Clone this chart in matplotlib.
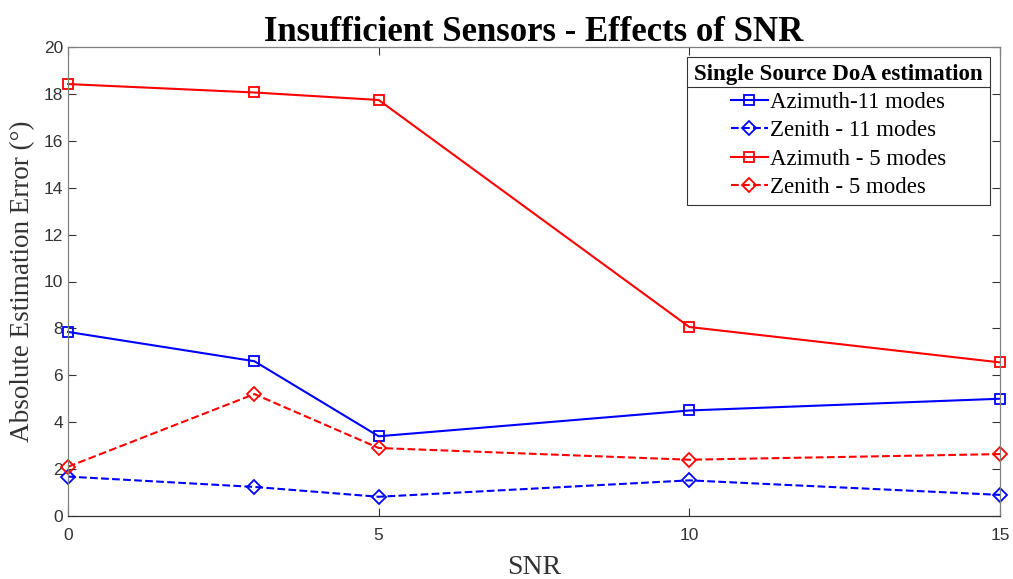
import matplotlib
matplotlib.use("Agg")
import matplotlib.pyplot as plt
from matplotlib.lines import Line2D

snr = [0, 3, 5, 10, 15]
az11 = [7.85, 6.6, 3.4, 4.5, 5.0]
zen11 = [1.68, 1.24, 0.82, 1.52, 0.9]
az5 = [18.42, 18.06, 17.74, 8.06, 6.55]
zen5 = [2.1, 5.2, 2.9, 2.4, 2.64]
labels = ["Azimuth-11 modes", "Zenith - 11 modes", "Azimuth - 5 modes", "Zenith - 5 modes"]
xticks = [0, 5, 10, 15]
yticks = list(range(0, 21, 2))

serif = "Liberation Serif"
sans = "Liberation Sans"

fig = plt.figure(figsize=(10.13, 5.79), dpi=100)
ax = fig.add_axes([68/1013, 1 - 516/579, (1000-68)/1013, (516-47)/579])

ms = 7
kw = dict(mfc="none", ms=ms, mew=1.3, lw=1.5, clip_on=False)
ax.plot(snr, az11, color="#0000ff", ls="-", marker="s", label=labels[0], **kw)
ax.plot(snr, zen11, color="#0000ff", ls="--", marker="D", label=labels[1], **kw)
ax.plot(snr, az5, color="#ff0000", ls="-", marker="s", label=labels[2], **kw)
ax.plot(snr, zen5, color="#ff0000", ls="--", marker="D", label=labels[3], **kw)

ax.set_xlim(0, 15)
ax.set_ylim(0, 20)
ax.set_xticks(xticks)
ax.set_yticks(yticks)
ax.tick_params(direction="in", top=True, right=True, length=6, width=0.8,
               colors="#333333", labelsize=12.5)
ax.tick_params(axis="x", pad=9)
for lab in ax.get_xticklabels() + ax.get_yticklabels():
    lab.set_fontfamily(sans)
for name, s in ax.spines.items():
    s.set_color("#333333" if name == "bottom" else "#808080")
    s.set_linewidth(0.9)

ax.set_title("Insufficient Sensors - Effects of SNR", fontfamily=serif, fontweight="bold",
             fontsize=25, pad=4)
ax.set_xlabel("SNR", fontfamily=serif, fontsize=20, color="#333333", labelpad=8)
ax.set_ylabel("Absolute Estimation Error (°)", fontfamily=serif, fontsize=19.5, color="#333333", labelpad=6)

leg = ax.legend(loc="upper right", bbox_to_anchor=(0.989, 0.979), fancybox=False, framealpha=1,
                edgecolor="#333333", prop={"family": serif, "size": 16.5},
                title="Single Source DoA estimation",
                title_fontproperties={"family": serif, "weight": "bold", "size": 16.5},
                handlelength=1.6, handletextpad=0.1, labelspacing=0.32, borderpad=0.3,
                borderaxespad=0, markerscale=1.0)
leg.get_frame().set_linewidth(0.8)

fig.canvas.draw()
# separator line between legend title and entries
r = fig.canvas.get_renderer()
lb = leg.get_window_extent(r)
tb = leg.get_title().get_window_extent(r)
inv = fig.transFigure.inverted()
y = tb.y0 - 2
(x0, yy), = inv.transform([(lb.x0, y)])
(x1, _), = inv.transform([(lb.x1, y)])
fig.add_artist(Line2D([x0, x1], [yy, yy], transform=fig.transFigure, color="#333333", lw=0.8))

fig.savefig("out.png", dpi=100)
